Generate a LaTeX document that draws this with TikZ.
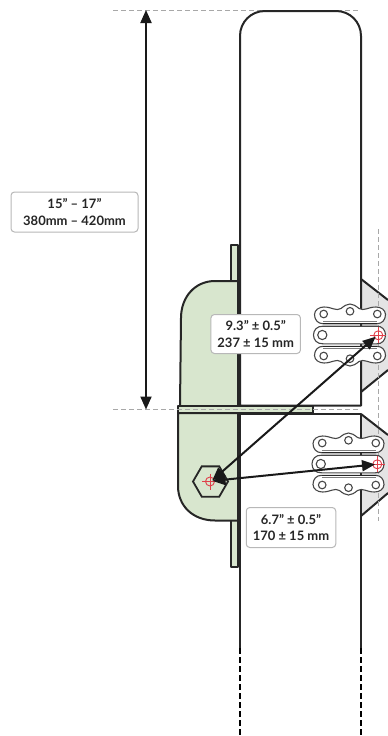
\documentclass[tikz,border=0pt]{standalone}
\usepackage{fontspec}
\setmainfont{Lato}
\usetikzlibrary{arrows.meta,shapes.geometric}
\definecolor{dk}{HTML}{262626}
\definecolor{grn}{HTML}{D8E6CE}
\definecolor{tri}{HTML}{E4E4E4}
\definecolor{gdash}{HTML}{A8A8A8}
\definecolor{trg}{HTML}{E0404A}
\tikzset{
  x=1pt,y=-1pt,
  outl/.style={draw=dk,line width=2pt,line join=round},
  heavy/.style={draw=dk,line width=3.4pt},
  greenfill/.style={outl,fill=grn},
  guide/.style={draw=gdash,line width=1pt,dash pattern=on 4.5pt off 3.5pt},
  dashpost/.style={draw=black,line width=1.6pt,dash pattern=on 5.5pt off 3.5pt},
  dim/.style={draw=black!90,line width=2pt,{Triangle[length=13pt,width=11pt]}-{Triangle[length=13pt,width=11pt]},shorten <=1pt,shorten >=1pt},
  lbl/.style={draw=black!28,fill=white,line width=1pt,rounded corners=3.5pt,align=center,inner sep=0pt,font=\fontsize{13}{16.5}\selectfont\bfseries,text=dk},
  thin hinge/.style={draw=dk!85,fill=white,line width=1.1pt,line join=round},
  hinge edge/.style={draw=dk!60,line width=0.8pt},
  target/.style={draw=trg,line width=0.9pt},
  hinge/.pic={
    \foreach \s in {1,-1}{
      \begin{scope}[yscale=\s]
        \draw[thin hinge] (-27,-11.3) .. controls (-32,-11.3) and (-35.5,-15) .. (-35.5,-20.5)
          .. controls (-35.5,-25) and (-31,-28) .. (-26,-28)
          .. controls (-18,-28) and (-14,-23.5) .. (-9,-26.5)
          .. controls (-6,-29) and (-3,-31) .. (0,-31)
          .. controls (3,-31) and (6,-29) .. (9,-26.5)
          .. controls (14,-23.5) and (18,-28) .. (26,-28)
          .. controls (31,-28) and (35.5,-25) .. (35.5,-20.5)
          .. controls (35.5,-15) and (32,-11.3) .. (27,-11.3) -- cycle;
        \draw[draw=dk,line width=1.5pt] (-27,-11.3) -- (27,-11.3);
        \draw[hinge edge] (-27,-13.8) -- (27,-13.8);
        \foreach \hx/\hy in {-26.3/-21,0/-23.7,27.3/-21}
          \draw[thin hinge] (\hx,\hy) circle[radius=3.8];
      \end{scope}
    }
    \draw[thin hinge] (-27,-8.8) .. controls (-33,-9) and (-36.5,-5) .. (-36.5,0)
       .. controls (-36.5,5) and (-33,9) .. (-27,8.8) -- (27,8.8)
       .. controls (32,9) and (35.5,5) .. (35.5,0)
       .. controls (35.5,-5) and (32,-9) .. (27,-8.8) -- cycle;
    \draw[thin hinge] (-27.7,0) circle[radius=4.6];
  },
  crosshair/.pic={
    \draw[target] (0,0) circle[radius=4.5];
    \draw[target] (-8,0) -- (8,0) (0,-8) -- (0,8);
  }
}
\begin{document}
\begin{tikzpicture}
\useasboundingbox (0,0) rectangle (388,736);
% triangles
\fill[tri] (361,279) -- (388,300) -- (388,370) -- (361,392) -- cycle;
\fill[tri] (361,414) -- (388,435) -- (388,493) -- (361,516) -- cycle;
\draw[outl] (361,279) -- (388,300) (361,392) -- (388,370);
\draw[outl] (361,414) -- (388,435) (361,516) -- (388,493);
% guides
\draw[guide] (378,229) -- (378,521);
\draw[guide] (113,10) -- (361,10);
% post
\draw[outl] (240,405.5) -- (240,36) .. controls (240,22) and (251,11) .. (265,11) -- (336,11) .. controls (350,11) and (361,22) .. (361,36) -- (361,405.5) -- cycle;
\draw[outl] (240,648) -- (240,413.5) -- (361,413.5) -- (361,648);
\draw[dashpost] (240,648) -- (240,736);
\draw[dashpost] (361,648) -- (361,736);
% bracket
\draw[greenfill] (231,281) -- (231,245) -- (237.5,245) -- (237.5,281);
\draw[greenfill] (231,521) -- (231,566.5) -- (237.5,566.5) -- (237.5,521);
\draw[greenfill] (238,281) -- (215,281) .. controls (195,281) and (181,297) .. (181,318) -- (180,406) -- (238,406) -- cycle;
\draw[greenfill] (178,413) -- (178,486) .. controls (178,506) and (193,520.5) .. (215,520.5) -- (238,520.5) -- (238,413) -- cycle;
\draw[greenfill] (177.5,406) rectangle (313,413);
\draw[guide] (113,409.5) -- (361,409.5);
\draw[heavy] (239.3,281) -- (239.3,405.5);
\draw[heavy] (239.3,413) -- (239.3,520.5);
% hex
\node[regular polygon,regular polygon sides=6,minimum size=35pt,inner sep=0pt,draw=dk,line width=1.8pt] (hex) at (210.5,481.5) {};
% hinges
\pic at (350,335) {hinge};
\pic at (348.5,464) {hinge};
\pic at (378.3,335.3) {crosshair};
\pic at (377.3,464.3) {crosshair};
\pic at (210,481.5) {crosshair};
\coordinate (hc) at (211.5,481);
\coordinate (ta) at (376.5,336);
\coordinate (tb) at (376,464.3);
\coordinate (vt) at (146,10);
\coordinate (vb) at (146,409.5);
\draw[dim] (hc) -- (ta);
\draw[dim] (hc) -- (tb);
\draw[dim,shorten <=0pt,shorten >=0pt] (vt) -- (vb);
% labels
\node[lbl,minimum width=127pt,minimum height=40pt] (l1) at (74.5,212) {15” – 17”\\380mm – 420mm};
\node[lbl,minimum width=89.5pt,minimum height=39pt] (l2) at (255.7,334) {9.3” ± 0.5”\\237 ± 15 mm};
\node[lbl,minimum width=89.5pt,minimum height=40pt] (l3) at (291,527.5) {6.7” ± 0.5”\\170 ± 15 mm};
\end{tikzpicture}
\end{document}
